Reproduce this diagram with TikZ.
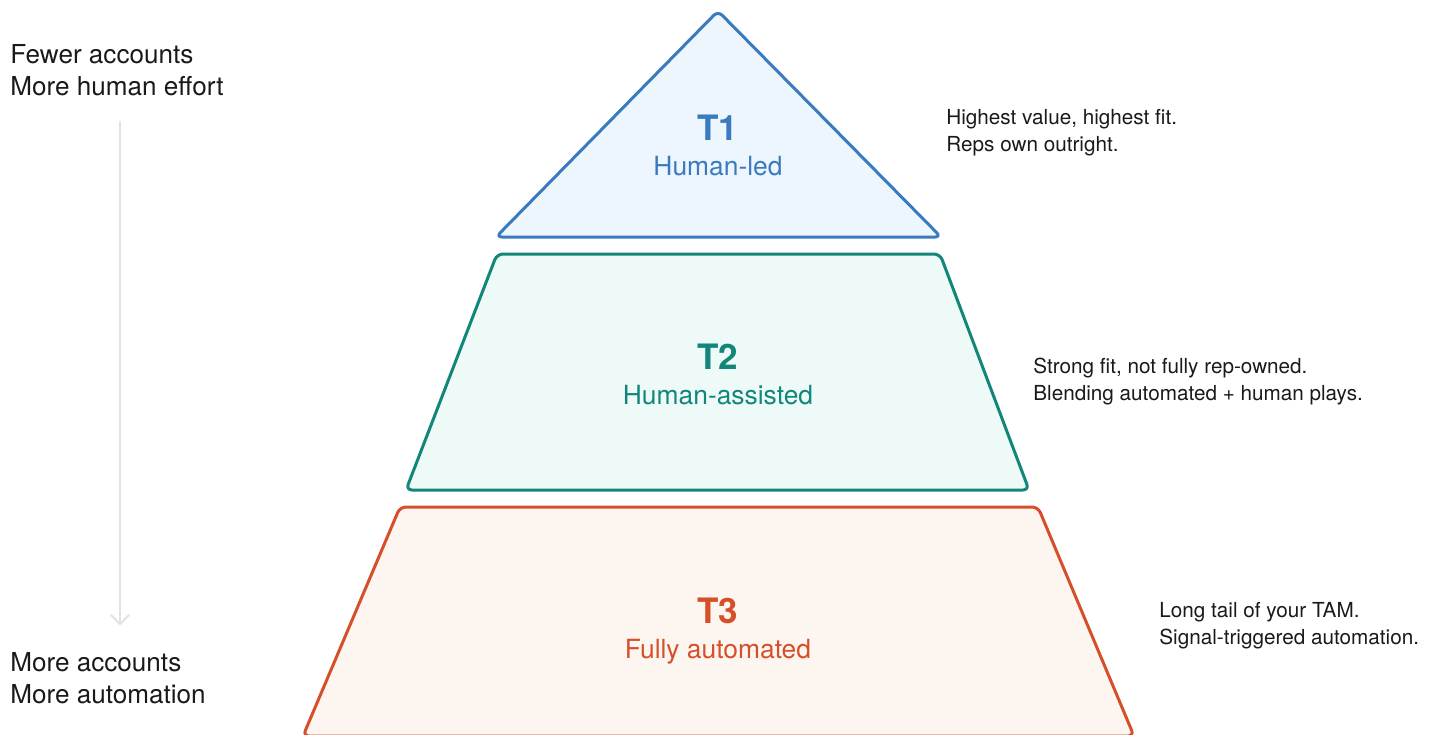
\documentclass[tikz,border=0pt]{standalone}
\usepackage{fontspec}
\setmainfont{TeX Gyre Heros}
\definecolor{tonestroke}{HTML}{3A7BBF}
\definecolor{tonefill}{HTML}{EDF5FD}
\definecolor{ttwostroke}{HTML}{13867A}
\definecolor{ttwofill}{HTML}{EEFAF7}
\definecolor{tthreestroke}{HTML}{D5502A}
\definecolor{tthreefill}{HTML}{FDF5EF}
\definecolor{arrowgray}{HTML}{E2E2E2}
\definecolor{textdark}{HTML}{1A1A1A}
\begin{document}
\begin{tikzpicture}[x=0.5pt,y=-0.5pt,
  tier/.style={line width=1.5pt, rounded corners=3pt, line join=round},
  tiername/.style={font=\fontsize{17.5}{20}\selectfont\bfseries, anchor=base},
  tiersub/.style={font=\fontsize{13.2}{15}\selectfont, anchor=base},
  note/.style={font=\fontsize{10.35}{12}\selectfont, text=textdark, anchor=base west, inner sep=0pt},
  sidelabel/.style={font=\fontsize{13.05}{15}\selectfont, text=textdark, anchor=base west, inner sep=0pt}]
\useasboundingbox (0,0) rectangle (1440,734);
\begin{scope}
\clip (0,0) rectangle (1440,734);
% tier shapes
\draw[tier, draw=tonestroke, fill=tonefill] (718,11) -- (941,237) -- (496,237) -- cycle;
\draw[tier, draw=ttwostroke, fill=ttwofill] (497,254) -- (940,254) -- (1029,490) -- (406,490) -- cycle;
\draw[tier, draw=tthreestroke, fill=tthreefill] (400,507) -- (1038,507) -- (1134,736) -- (303,736) -- cycle;
\end{scope}
% tier labels
\node[tiername, text=tonestroke] (t1) at (718,140) {T1};
\node[tiersub, text=tonestroke] (t1s) at (718,175) {Human-led};
\node[tiername, text=ttwostroke] (t2) at (718,369) {T2};
\node[tiersub, text=ttwostroke] (t2s) at (718,404) {Human-assisted};
\node[tiername, text=tthreestroke] (t3) at (718,623) {T3};
\node[tiersub, text=tthreestroke] (t3s) at (718,658) {Fully automated};
% notes
\node[note] (n1a) at (946,124) {Highest value, highest fit.};
\node[note] (n1b) at (946,151) {Reps own outright.};
\node[note] (n2a) at (1033,373) {Strong fit, not fully rep-owned.};
\node[note] (n2b) at (1033,400) {Blending automated + human plays.};
\node[note] (n3a) at (1159,617) {Long tail of your TAM.};
\node[note] (n3b) at (1159,644) {Signal-triggered automation.};
% side scale
\node[sidelabel] (top1) at (10,63) {Fewer accounts};
\node[sidelabel] (top2) at (10,95) {More human effort};
\node[sidelabel] (bot1) at (10,671) {More accounts};
\node[sidelabel] (bot2) at (10,703) {More automation};
\coordinate (arrtop) at (120,122);
\coordinate (arrbot) at (120,624);
\draw[arrowgray, line width=1pt, line cap=round] (arrtop) -- (arrbot);
\draw[arrowgray, line width=1pt, line cap=round, line join=round] (111,615) -- (arrbot) -- (129,615);
\end{tikzpicture}
\end{document}
